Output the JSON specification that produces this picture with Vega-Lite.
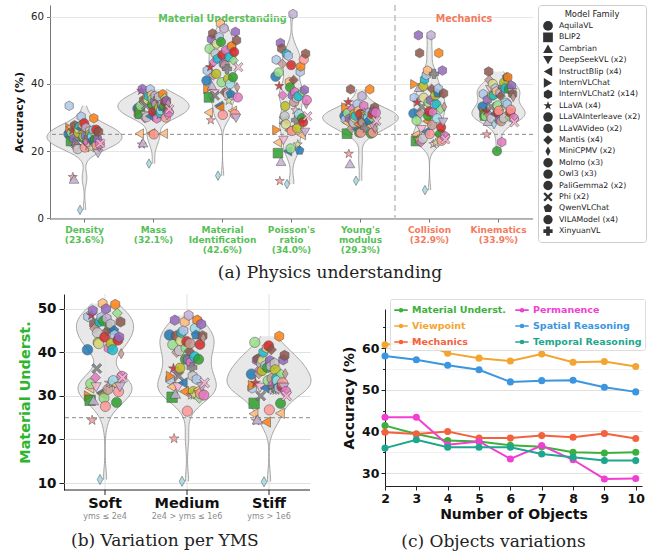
{
 "$schema": "https://vega.github.io/schema/vega-lite/v6.json",
 "padding": {"left": 13, "top": 4, "right": 2, "bottom": 2},
 "background": "white",
 "config": {
  "view": {"stroke": null},
  "font": "DejaVu Sans",
  "axis": {"labelFont": "DejaVu Sans", "titleFont": "DejaVu Sans"},
  "title": {"font": "DejaVu Serif", "fontSize": 17, "fontWeight": "normal", "color": "#222222", "orient": "bottom", "anchor": "middle", "frame": "bounds"}
 },
 "datasets": {
  "models": [
   {"m":"m00","f":"AquilaVL","a1":25.1,"a2":32.7,"a3":41,"a4":42.2,"a5":30.5,"a6":31.2,"a7":33.2,"Soft":40.6,"Medium":44,"Stiff":35},
   {"m":"m01","f":"InternVLChat2 (x14)","a1":33.5,"a2":31.0,"a3":44,"a4":47.2,"a5":29.5,"a6":35.9,"a7":37.0,"Soft":48.2,"Medium":33.8,"Stiff":31.8},
   {"m":"m02","f":"InternVLChat","a1":26.9,"a2":31.8,"a3":38.5,"a4":26.3,"a5":33,"a6":39.9,"a7":31.5,"Soft":30,"Medium":34.5,"Stiff":32.4},
   {"m":"m03","f":"InstructBlip (x4)","a1":27.2,"a2":25.2,"a3":31.5,"a4":22.6,"a5":28.5,"a6":24.8,"a7":31.0,"Soft":31.8,"Medium":32.1,"Stiff":25.9},
   {"m":"m04","f":"BLIP2","a1":23.0,"a2":31.2,"a3":36,"a4":19.4,"a5":25.2,"a6":23.0,"a7":30.6,"Soft":29,"Medium":29.7,"Stiff":28.3},
   {"m":"m05","f":"LLaVAInterleave (x2)","a1":25.5,"a2":33.5,"a3":50.5,"a4":43.4,"a5":31.3,"a6":29.1,"a7":30.4,"Soft":32.8,"Medium":41.8,"Stiff":42.3},
   {"m":"m06","f":"LLaVA (x4)","a1":26.1,"a2":38.0,"a3":45,"a4":39.4,"a5":34.6,"a6":34.5,"a7":31.9,"Soft":48.5,"Medium":36.3,"Stiff":33},
   {"m":"m07","f":"LLaVA (x4)","a1":12.3,"a2":22,"a3":29.2,"a4":11.1,"a5":19.2,"a6":23.5,"a7":25,"Soft":24.4,"Medium":20.2,"Stiff":24.3},
   {"m":"m08","f":"InternVLChat2 (x14)","a1":23.7,"a2":38.5,"a3":53.3,"a4":52.2,"a5":29.7,"a6":54.5,"a7":35.3,"Soft":49.6,"Medium":47.4,"Stiff":38.2},
   {"m":"m09","f":"Cambrian","a1":11.7,"a2":22.5,"a3":39.5,"a4":17,"a5":16.3,"a6":39.0,"a7":28.9,"Soft":29,"Medium":30.5,"Stiff":24.6},
   {"m":"m10","f":"InternVLChat2 (x14)","a1":27.7,"a2":35.2,"a3":55,"a4":50.5,"a5":38.4,"a6":49.2,"a7":43.7,"Soft":46.5,"Medium":43.8,"Stiff":38.5},
   {"m":"m11","f":"Mantis (x4)","a1":21.4,"a2":34.5,"a3":42.5,"a4":46,"a5":26.7,"a6":31.2,"a7":41.2,"Soft":45.5,"Medium":40,"Stiff":35.1},
   {"m":"m12","f":"Mantis (x4)","a1":21.9,"a2":29.8,"a3":46.5,"a4":36.6,"a5":32.6,"a6":22.6,"a7":30.6,"Soft":34.2,"Medium":35.5,"Stiff":36},
   {"m":"m13","f":"DeepSeekVL (x2)","a1":20.7,"a2":30.6,"a3":37,"a4":23.2,"a5":28,"a6":26.4,"a7":38.3,"Soft":32,"Medium":32,"Stiff":31.9},
   {"m":"m14","f":"Phi (x2)","a1":22.5,"a2":33.6,"a3":36.5,"a4":29.2,"a5":29,"a6":33.2,"a7":33.2,"Soft":36.3,"Medium":34.6,"Stiff":30},
   {"m":"m15","f":"PaliGemma2 (x2)","a1":20.6,"a2":30.1,"a3":49,"a4":30.4,"a5":28.5,"a6":23.7,"a7":29.8,"Soft":44.5,"Medium":40.4,"Stiff":37.5},
   {"m":"m16","f":"VILAModel (x4)","a1":25.4,"a2":36.0,"a3":43,"a4":33.4,"a5":31,"a6":39.3,"a7":36.6,"Soft":42.3,"Medium":36.4,"Stiff":35.8},
   {"m":"m17","f":"Owl3 (x3)","a1":26.6,"a2":35.3,"a3":52,"a4":28,"a5":30,"a6":35.9,"a7":40.0,"Soft":42,"Medium":42.7,"Stiff":38.2},
   {"m":"m18","f":"InternVLChat2 (x14)","a1":27.4,"a2":36.3,"a3":47.5,"a4":49,"a5":30.5,"a6":41.3,"a7":36.6,"Soft":47,"Medium":44.5,"Stiff":40},
   {"m":"m19","f":"MiniCPMV (x2)","a1":2.5,"a2":16.3,"a3":12.7,"a4":10.2,"a5":11.2,"a6":8.4,"a7":28.0,"Soft":10.8,"Medium":10.4,"Stiff":10.3},
   {"m":"m20","f":"InstructBlip (x4)","a1":26.8,"a2":30.4,"a3":33.5,"a4":20,"a5":26.5,"a6":25.8,"a7":31.0,"Soft":30.7,"Medium":33,"Stiff":31.8},
   {"m":"m21","f":"InternVLChat2 (x14)","a1":30.3,"a2":38.4,"a3":54,"a4":48.4,"a5":34,"a6":42.6,"a7":38.7,"Soft":48,"Medium":45,"Stiff":37},
   {"m":"m22","f":"InstructBlip (x4)","a1":25.6,"a2":25.3,"a3":33,"a4":26.2,"a5":28,"a6":28.9,"a7":31.5,"Soft":30.4,"Medium":31,"Stiff":24},
   {"m":"m23","f":"InternVLChat2 (x14)","a1":27.9,"a2":36.7,"a3":58,"a4":40.6,"a5":32,"a6":44.0,"a7":37.8,"Soft":51.2,"Medium":47,"Stiff":41},
   {"m":"m24","f":"VILAModel (x4)","a1":23.9,"a2":33.9,"a3":52.5,"a4":39,"a5":25.5,"a6":30.5,"a7":20,"Soft":47.2,"Medium":38.4,"Stiff":36.5},
   {"m":"m25","f":"Owl3 (x3)","a1":24.4,"a2":35.5,"a3":40.5,"a4":20.8,"a5":30.9,"a6":34.5,"a7":33.6,"Soft":29.5,"Medium":41,"Stiff":33.5},
   {"m":"m26","f":"PaliGemma2 (x2)","a1":28.3,"a2":31.7,"a3":48.6,"a4":45.6,"a5":31,"a6":31.8,"a7":31.4,"Soft":43.5,"Medium":42.5,"Stiff":41.5},
   {"m":"m27","f":"LLaVAVideo (x2)","a1":21.1,"a2":25,"a3":30.8,"a4":26,"a5":25.5,"a6":25.1,"a7":32.0,"Soft":27.6,"Medium":26.5,"Stiff":26.8},
   {"m":"m28","f":"InternVLChat2 (x14)","a1":24.5,"a2":34.8,"a3":46,"a4":36.6,"a5":29,"a6":35.2,"a7":29.3,"Soft":50,"Medium":38.3,"Stiff":38.1},
   {"m":"m29","f":"InternVLChat2 (x14)","a1":27.0,"a2":36.5,"a3":56.5,"a4":60.8,"a5":36.4,"a6":54.5,"a7":37.4,"Soft":47.8,"Medium":48.5,"Stiff":36.8},
   {"m":"m30","f":"Mantis (x4)","a1":22.6,"a2":32.0,"a3":37.5,"a4":41.2,"a5":29.5,"a6":38.6,"a7":36.4,"Soft":45,"Medium":40.3,"Stiff":40.6},
   {"m":"m31","f":"Molmo (x3)","a1":23.1,"a2":34.0,"a3":45.5,"a4":34.6,"a5":28.5,"a6":27.8,"a7":28.9,"Soft":31.5,"Medium":42,"Stiff":34},
   {"m":"m32","f":"InternVLChat2 (x14)","a1":22.8,"a2":29.7,"a3":50,"a4":37.6,"a5":33.5,"a6":31.6,"a7":22.7,"Soft":41,"Medium":37.7,"Stiff":32.4},
   {"m":"m33","f":"LLaVA (x4)","a1":21.6,"a2":32.8,"a3":38,"a4":32.2,"a5":31.5,"a6":22.1,"a7":38.3,"Soft":33,"Medium":30.2,"Stiff":31.3},
   {"m":"m34","f":"XinyuanVL","a1":24.1,"a2":35.7,"a3":44.5,"a4":29.2,"a5":27,"a6":43,"a7":39.1,"Soft":45.8,"Medium":36.5,"Stiff":32},
   {"m":"m35","f":"InternVLChat2 (x14)","a1":26.0,"a2":36.2,"a3":37,"a4":35.8,"a5":30.5,"a6":33.9,"a7":29.8,"Soft":46.5,"Medium":34.6,"Stiff":37.5},
   {"m":"m36","f":"LLaVAInterleave (x2)","a1":25.0,"a2":33.0,"a3":41.5,"a4":26.8,"a5":30.5,"a6":36.6,"a7":40.4,"Soft":42,"Medium":31,"Stiff":36},
   {"m":"m37","f":"LLaVA (x4)","a1":20.9,"a2":30.8,"a3":35,"a4":22,"a5":30.5,"a6":22.5,"a7":33.2,"Soft":32.8,"Medium":30.2,"Stiff":31.3},
   {"m":"m38","f":"VILAModel (x4)","a1":24.7,"a2":31.3,"a3":48,"a4":36.4,"a5":30,"a6":33.9,"a7":38.7,"Soft":40.6,"Medium":39,"Stiff":34},
   {"m":"m39","f":"Molmo (x3)","a1":24.2,"a2":32.2,"a3":40,"a4":31,"a5":30,"a6":29.8,"a7":34.4,"Soft":33.5,"Medium":45.5,"Stiff":33.5},
   {"m":"m40","f":"QwenVLChat","a1":23.2,"a2":33.2,"a3":37,"a4":20.2,"a5":29,"a6":37.2,"a7":42,"Soft":45,"Medium":44,"Stiff":32},
   {"m":"m41","f":"InternVLChat2 (x14)","a1":26.3,"a2":34.1,"a3":51,"a4":43.6,"a5":31.5,"a6":38.6,"a7":34,"Soft":44,"Medium":33.8,"Stiff":31.8},
   {"m":"m42","f":"InternVLChat2 (x14)","a1":29.8,"a2":36.9,"a3":51.3,"a4":45.2,"a5":38.4,"a6":49.2,"a7":42,"Soft":51,"Medium":47.4,"Stiff":43.7},
   {"m":"m43","f":"InstructBlip (x4)","a1":24.9,"a2":25.2,"a3":32,"a4":24.8,"a5":27.5,"a6":24.8,"a7":31.5,"Soft":32.5,"Medium":31.5,"Stiff":26},
   {"m":"m44","f":"Owl3 (x3)","a1":23.5,"a2":33.4,"a3":42,"a4":29.8,"a5":25.2,"a6":25.1,"a7":38.5,"Soft":28.5,"Medium":38.4,"Stiff":28.3},
   {"m":"m45","f":"Mantis (x4)","a1":22.0,"a2":35.8,"a3":47,"a4":37.6,"a5":30,"a6":32.5,"a7":30.1,"Soft":49,"Medium":29.5,"Stiff":35},
   {"m":"m46","f":"VILAModel (x4)","a1":26.4,"a2":34.7,"a3":49.5,"a4":28.6,"a5":31,"a6":27.1,"a7":31.5,"Soft":42.8,"Medium":41.8,"Stiff":32.1},
   {"m":"m47","f":"LLaVAVideo (x2)","a1":21.7,"a2":30.0,"a3":31,"a4":47.3,"a5":25.5,"a6":23.1,"a7":32.3,"Soft":31,"Medium":30.5,"Stiff":33},
   {"m":"m48","f":"InternVLChat2 (x14)","a1":23.6,"a2":35.0,"a3":55.5,"a4":38.2,"a5":32,"a6":44.0,"a7":39.5,"Soft":43.5,"Medium":46.5,"Stiff":38.3},
   {"m":"m49","f":"DeepSeekVL (x2)","a1":19.3,"a2":30.5,"a3":29.8,"a4":25.6,"a5":27,"a6":28.6,"a7":37.4,"Soft":32,"Medium":32,"Stiff":31.9},
   {"m":"m50","f":"InternVLChat2 (x14)","a1":25.8,"a2":32.3,"a3":53,"a4":49,"a5":33,"a6":37.2,"a7":37.0,"Soft":47,"Medium":43.8,"Stiff":39.3},
   {"m":"m51","f":"MiniCPMV (x2)","a1":21.2,"a2":34.3,"a3":39,"a4":34,"a5":26.7,"a6":33.2,"a7":36.1,"Soft":39.7,"Medium":43.3,"Stiff":35.1},
   {"m":"m52","f":"Molmo (x3)","a1":22.2,"a2":31.5,"a3":36,"a4":35.2,"a5":31.5,"a6":24.4,"a7":29.8,"Soft":34.5,"Medium":30.2,"Stiff":31},
   {"m":"m53","f":"Phi (x2)","a1":22.3,"a2":32.5,"a3":45,"a4":30.4,"a5":29,"a6":23.5,"a7":28.6,"Soft":34.2,"Medium":33,"Stiff":30}
  ],
  "lines": [
   {"n":2,"s":"Material Underst.","acc":41.4},{"n":3,"s":"Material Underst.","acc":39.4},{"n":4,"s":"Material Underst.","acc":37.8},{"n":5,"s":"Material Underst.","acc":37.6},{"n":6,"s":"Material Underst.","acc":36.7},{"n":7,"s":"Material Underst.","acc":36.3},{"n":8,"s":"Material Underst.","acc":35.0},{"n":9,"s":"Material Underst.","acc":34.8},{"n":10,"s":"Material Underst.","acc":35.0},
   {"n":2,"s":"Viewpoint","acc":60.8},{"n":3,"s":"Viewpoint","acc":61.6},{"n":4,"s":"Viewpoint","acc":58.8},{"n":5,"s":"Viewpoint","acc":57.6},{"n":6,"s":"Viewpoint","acc":56.9},{"n":7,"s":"Viewpoint","acc":58.6},{"n":8,"s":"Viewpoint","acc":56.6},{"n":9,"s":"Viewpoint","acc":56.8},{"n":10,"s":"Viewpoint","acc":55.6},
   {"n":2,"s":"Mechanics","acc":39.8},{"n":3,"s":"Mechanics","acc":39.4},{"n":4,"s":"Mechanics","acc":40.0},{"n":5,"s":"Mechanics","acc":38.4},{"n":6,"s":"Mechanics","acc":38.4},{"n":7,"s":"Mechanics","acc":39.0},{"n":8,"s":"Mechanics","acc":38.6},{"n":9,"s":"Mechanics","acc":39.5},{"n":10,"s":"Mechanics","acc":38.3},
   {"n":2,"s":"Permanence","acc":43.4},{"n":3,"s":"Permanence","acc":43.4},{"n":4,"s":"Permanence","acc":36.8},{"n":5,"s":"Permanence","acc":37.6},{"n":6,"s":"Permanence","acc":33.4},{"n":7,"s":"Permanence","acc":36.6},{"n":8,"s":"Permanence","acc":33.2},{"n":9,"s":"Permanence","acc":28.6},{"n":10,"s":"Permanence","acc":28.7},
   {"n":2,"s":"Spatial Reasoning","acc":58.1},{"n":3,"s":"Spatial Reasoning","acc":57.2},{"n":4,"s":"Spatial Reasoning","acc":55.9},{"n":5,"s":"Spatial Reasoning","acc":54.8},{"n":6,"s":"Spatial Reasoning","acc":51.9},{"n":7,"s":"Spatial Reasoning","acc":52.2},{"n":8,"s":"Spatial Reasoning","acc":52.3},{"n":9,"s":"Spatial Reasoning","acc":50.6},{"n":10,"s":"Spatial Reasoning","acc":49.5},
   {"n":2,"s":"Temporal Reasoning","acc":36.0},{"n":3,"s":"Temporal Reasoning","acc":38.0},{"n":4,"s":"Temporal Reasoning","acc":36.2},{"n":5,"s":"Temporal Reasoning","acc":36.2},{"n":6,"s":"Temporal Reasoning","acc":36.2},{"n":7,"s":"Temporal Reasoning","acc":34.6},{"n":8,"s":"Temporal Reasoning","acc":33.8},{"n":9,"s":"Temporal Reasoning","acc":33.0},{"n":10,"s":"Temporal Reasoning","acc":33.0}
  ]
 },
 "resolve": {"scale": {"color": "independent", "shape": "independent", "size": "independent"}},
 "spacing": 12,
 "vconcat": [
  {
   "data": {"name": "models"},
   "transform": [{"fold": ["a1","a2","a3","a4","a5","a6","a7"], "as": ["cat","v"]}],
   "title": {"text": "(a) Physics understanding", "offset": 10},
   "bounds": "flush",
   "facet": {"column": {"field": "cat", "type": "nominal", "title": null, "header": {
     "labelOrient": "bottom", "labelPadding": 7, "labelFontSize": 9, "labelFontWeight": "bold", "labelLineHeight": 10, "labelBaseline": "top",
     "labelColor": {"expr": "parent['cat'] >= 'a6' ? '#f47a60' : '#56c056'"},
     "labelExpr": "datum.value == 'a1' ? ['Density','(23.6%)'] : datum.value == 'a2' ? ['Mass','(32.1%)'] : datum.value == 'a3' ? ['Material','Identification','(42.6%)'] : datum.value == 'a4' ? [\"Poisson's\",'ratio','(34.0%)'] : datum.value == 'a5' ? [\"Young's\",'modulus','(29.3%)'] : datum.value == 'a6' ? ['Collision','(32.9%)'] : ['Kinematics','(33.9%)']"
   }}},
   "spacing": 0,
   "spec": {
    "width": 69, "height": 214,
    "layer": [
     {
      "transform": [{"filter": "datum.m == 'm00'"}],
      "mark": {"type": "rule", "color": "#777777", "strokeWidth": 1},
      "encoding": {"x": {"datum": 27.5, "type": "quantitative", "scale": {"domain": [-30, 85], "nice": false, "zero": false}, "axis": null}, "y": {"datum": -0.2}, "y2": {"datum": -1.25}}
     },
     {"layer": [
      {
       "transform": [{"density": "v", "groupby": ["cat"], "bandwidth": 2.2, "steps": 120}],
       "mark": {"type": "area", "orient": "horizontal", "fill": "#e2e2e2", "fillOpacity": 0.8},
       "encoding": {
        "y": {"field": "value", "type": "quantitative", "title": "Accuracy (%)", "scale": {"domain": [-0.2, 63.5], "nice": false, "zero": false},
              "axis": {"values": [0,10,20,30,40,50,60], "grid": true, "gridColor": "#e6e6e6", "domainColor": "#777777", "tickColor": "#777777", "tickSize": 3.5, "labelFontSize": 10.2, "labelColor": "#222222", "labelPadding": 3, "titleFontSize": 11, "titleFontWeight": "bold", "titleColor": "#111111", "titlePadding": 6}},
        "x": {"field": "density", "type": "quantitative", "stack": null, "scale": {"domain": [-0.098, 0.098], "nice": false, "zero": false}, "axis": null}
       }
      },
      {
       "transform": [{"density": "v", "groupby": ["cat"], "bandwidth": 2.2, "steps": 120}],
       "mark": {"type": "line", "color": "#909090", "strokeWidth": 0.8},
       "encoding": {
        "y": {"field": "value", "type": "quantitative", "title": "Accuracy (%)"},
        "x": {"field": "density", "type": "quantitative"},
        "order": {"field": "value", "type": "quantitative"}
       }
      }
     ]},
     {"layer": [
      {
       "transform": [{"density": "v", "groupby": ["cat"], "bandwidth": 2.2, "steps": 120}],
       "mark": {"type": "area", "orient": "horizontal", "fill": "#e2e2e2", "fillOpacity": 0.8},
       "encoding": {
        "y": {"field": "value", "type": "quantitative", "title": "Accuracy (%)"},
        "x": {"field": "density", "type": "quantitative", "stack": null, "scale": {"domain": [-0.098, 0.098], "nice": false, "zero": false, "reverse": true}, "axis": null}
       }
      },
      {
       "transform": [{"density": "v", "groupby": ["cat"], "bandwidth": 2.2, "steps": 120}],
       "mark": {"type": "line", "color": "#909090", "strokeWidth": 0.8},
       "encoding": {
        "y": {"field": "value", "type": "quantitative", "title": "Accuracy (%)"},
        "x": {"field": "density", "type": "quantitative"},
        "order": {"field": "value", "type": "quantitative"}
       }
      },
      {
       "transform": [{"filter": "datum.m == 'm00'"}],
       "mark": {"type": "rule", "strokeDash": [4,3], "color": "#8a8a8a", "strokeWidth": 1},
       "encoding": {"y": {"datum": 25}}
      },
      {
       "transform": [{"filter": "datum.m == 'm00'"}],
       "mark": {"type": "rule", "color": "#777777", "strokeWidth": 1},
       "encoding": {"y": {"datum": -0.2}}
      },
      {
       "transform": [{"filter": "datum.m == 'm00' && datum.cat == 'a6'"}],
       "mark": {"type": "rule", "strokeDash": [6,4], "color": "#c4c4c4", "strokeWidth": 1.6},
       "encoding": {"x": {"datum": 0.098}}
      },
      {
       "transform": [{"filter": "datum.m == 'm00' && datum.cat == 'a3'"}],
       "mark": {"type": "text", "text": "Material Understanding", "fontWeight": "bold", "fontSize": 9.6, "color": "#5cc15c"},
       "encoding": {"y": {"datum": 59.3}}
      },
      {
       "transform": [{"filter": "datum.m == 'm00' && datum.cat == 'a7'"}],
       "mark": {"type": "text", "text": "Mechanics", "fontWeight": "bold", "fontSize": 9.6, "color": "#f47a60"},
       "encoding": {"y": {"datum": 59.3}, "x": {"datum": 0.098}}
      }
     ]},
     {
      "transform": [{"window": [{"op": "row_number", "as": "i"}], "groupby": ["cat"], "sort": [{"field": "m"}]}],
      "mark": {"type": "point", "filled": true, "opacity": 0.85, "stroke": "#4a4a4a", "strokeWidth": 0.6},
      "encoding": {
       "x": {"field": "i", "type": "quantitative", "scale": {"domain": [-30, 85], "nice": false, "zero": false}, "axis": null},
       "y": {"field": "v", "type": "quantitative", "title": "Accuracy (%)", "scale": {"domain": [-0.2, 63.5], "nice": false, "zero": false}},
       "color": {"field": "m", "type": "nominal", "legend": null, "scale": {"range": ["#1f77b4","#aec7e8","#ff7f0e","#ffbb78","#2ca02c","#98df8a","#d62728","#ff9896","#9467bd","#c5b0d5","#8c564b","#c49c94","#e377c2","#f7b6d2","#7f7f7f","#c7c7c7","#bcbd22","#dbdb8d","#17becf","#9edae5"]}},
       "shape": {"field": "f", "type": "nominal",
        "scale": {"domain": ["AquilaVL","BLIP2","Cambrian","DeepSeekVL (x2)","InstructBlip (x4)","InternVLChat","InternVLChat2 (x14)","LLaVA (x4)","LLaVAInterleave (x2)","LLaVAVideo (x2)","Mantis (x4)","MiniCPMV (x2)","Molmo (x3)","Owl3 (x3)","PaliGemma2 (x2)","Phi (x2)","QwenVLChat","VILAModel (x4)","XinyuanVL"],
                  "range": ["circle","square","triangle-up","triangle-down","triangle-left","triangle-right","M0,-1L0.866,-0.5L0.866,0.5L0,1L-0.866,0.5L-0.866,-0.5Z","M0,-1L0.224,-0.309L0.951,-0.309L0.363,0.118L0.588,0.809L0,0.382L-0.588,0.809L-0.363,0.118L-0.951,-0.309L-0.224,-0.309Z","circle","circle","diamond","M0,-1L0.55,0L0,1L-0.55,0Z","circle","circle","circle","M0,-0.35L0.65,-1L1,-0.65L0.35,0L1,0.65L0.65,1L0,0.35L-0.65,1L-1,0.65L-0.35,0L-1,-0.65L-0.65,-1Z","M0,-1L0.951,-0.309L0.588,0.809L-0.588,0.809L-0.951,-0.309Z","circle","cross"]},
        "legend": {"title": "Model Family", "orient": "right", "offset": 4, "padding": 5, "strokeColor": "#cccccc", "fillColor": "white", "cornerRadius": 3, "titleFontWeight": "normal", "titleFontSize": 8.4, "titleColor": "#222222", "titleAnchor": "middle", "titlePadding": 2, "labelFontSize": 7.8, "labelColor": "#222222", "labelOffset": 6, "symbolFillColor": "#333333", "symbolStrokeColor": "#333333", "symbolStrokeWidth": 0, "symbolOpacity": 1, "clipHeight": 11, "rowPadding": 0.4}},
       "size": {"field": "f", "type": "nominal",
        "scale": {"domain": ["AquilaVL","BLIP2","Cambrian","DeepSeekVL (x2)","InstructBlip (x4)","InternVLChat","InternVLChat2 (x14)","LLaVA (x4)","LLaVAInterleave (x2)","LLaVAVideo (x2)","Mantis (x4)","MiniCPMV (x2)","Molmo (x3)","Owl3 (x3)","PaliGemma2 (x2)","Phi (x2)","QwenVLChat","VILAModel (x4)","XinyuanVL"],
                  "range": [95,85,95,95,95,95,180,75,95,95,120,130,28,95,95,85,120,95,90]},
        "legend": {"title": "Model Family", "orient": "right", "offset": 4, "padding": 5, "strokeColor": "#cccccc", "fillColor": "white", "cornerRadius": 3, "titleFontWeight": "normal", "titleFontSize": 8.4, "titleColor": "#222222", "titleAnchor": "middle", "titlePadding": 2, "labelFontSize": 7.8, "labelColor": "#222222", "labelOffset": 6, "symbolFillColor": "#333333", "symbolStrokeColor": "#333333", "symbolStrokeWidth": 0, "symbolOpacity": 1, "clipHeight": 11, "rowPadding": 0.4}}
      }
     }
    ],
    "resolve": {"scale": {"x": "independent"}, "axis": {"x": "independent"}}
   }
  },
  {
   "resolve": {"scale": {"color": "independent", "shape": "independent", "size": "independent"}},
   "spacing": 29,
   "hconcat": [
    {
     "bounds": "flush",
     "spacing": 0,
     "resolve": {"scale": {"color": "independent", "shape": "independent", "size": "independent"}},
     "hconcat": [
      {"width": 14, "height": 10, "data": {"values": []}, "mark": {"type": "point", "opacity": 0}, "encoding": {}},
      {
       "data": {"name": "models"},
       "transform": [{"fold": ["Soft","Medium","Stiff"], "as": ["cat","v"]}],
       "title": {"text": "(b) Variation per YMS", "offset": 12},
       "bounds": "flush",
       "facet": {"column": {"field": "cat", "type": "nominal", "title": null, "sort": ["Soft","Medium","Stiff"], "header": {
         "labelOrient": "bottom", "labelPadding": 23, "labelFontSize": 8, "labelColor": "#8a8a8a", "labelBaseline": "top",
         "labelExpr": "datum.value == 'Soft' ? 'yms ≤ 2e4' : datum.value == 'Medium' ? '2e4 > yms ≤ 1e6' : 'yms > 1e6'"
       }}},
       "spacing": 0,
       "spec": {
        "width": 82, "height": 196,
        "layer": [
         {"layer": [
          {
           "transform": [{"filter": "datum.m == 'm00'"}],
           "mark": {"type": "rule", "color": "#e0e0e0", "strokeWidth": 1},
           "encoding": {"x": {"datum": 27.5, "type": "quantitative", "scale": {"domain": [-34.5, 89.5], "nice": false, "zero": false}, "axis": null}}
          },
          {
           "transform": [{"filter": "datum.m == 'm00'"}],
           "mark": {"type": "rule", "color": "#222222", "strokeWidth": 1},
           "encoding": {"x": {"datum": 27.5, "type": "quantitative"}, "y": {"datum": 8.4}, "y2": {"datum": 7.25}}
          }
         ]},
         {"layer": [
          {
           "transform": [{"density": "v", "groupby": ["cat"], "bandwidth": 2.6, "steps": 120}],
           "mark": {"type": "area", "orient": "horizontal", "fill": "#e2e2e2", "fillOpacity": 0.8},
           "encoding": {
            "y": {"field": "value", "type": "quantitative", "title": "Material Underst.", "scale": {"domain": [8.4, 53.4], "nice": false, "zero": false},
                  "axis": {"values": [10,15,20,25,30,35,40,45,50], "labelExpr": "datum.value % 10 == 0 ? datum.label : ''", "grid": true,
                           "gridColor": {"condition": {"test": "datum.value % 10 == 0", "value": "#e0e0e0"}, "value": "#f0f0f0"},
                           "tickSize": {"condition": {"test": "datum.value % 10 == 0", "value": 5}, "value": 3},
                           "domainColor": "#222222", "tickColor": "#222222", "labelFontSize": 13.5, "labelFontWeight": "bold", "labelColor": "#111111", "labelPadding": 3,
                           "titleFontSize": 14.4, "titleFontWeight": "bold", "titleColor": "#2db52d", "titlePadding": 5}},
            "x": {"field": "density", "type": "quantitative", "stack": null, "scale": {"domain": [-0.072, 0.072], "nice": false, "zero": false}, "axis": null}
           }
          },
          {
           "transform": [{"density": "v", "groupby": ["cat"], "bandwidth": 2.6, "steps": 120}],
           "mark": {"type": "line", "color": "#909090", "strokeWidth": 0.8},
           "encoding": {
            "y": {"field": "value", "type": "quantitative", "title": "Material Underst."},
            "x": {"field": "density", "type": "quantitative"},
            "order": {"field": "value", "type": "quantitative"}
           }
          }
         ]},
         {"layer": [
          {
           "transform": [{"density": "v", "groupby": ["cat"], "bandwidth": 2.6, "steps": 120}],
           "mark": {"type": "area", "orient": "horizontal", "fill": "#e2e2e2", "fillOpacity": 0.8},
           "encoding": {
            "y": {"field": "value", "type": "quantitative", "title": "Material Underst."},
            "x": {"field": "density", "type": "quantitative", "stack": null, "scale": {"domain": [-0.072, 0.072], "nice": false, "zero": false, "reverse": true}, "axis": null}
           }
          },
          {
           "transform": [{"density": "v", "groupby": ["cat"], "bandwidth": 2.6, "steps": 120}],
           "mark": {"type": "line", "color": "#909090", "strokeWidth": 0.8},
           "encoding": {
            "y": {"field": "value", "type": "quantitative", "title": "Material Underst."},
            "x": {"field": "density", "type": "quantitative"},
            "order": {"field": "value", "type": "quantitative"}
           }
          },
          {
           "transform": [{"filter": "datum.m == 'm00'"}],
           "mark": {"type": "rule", "strokeDash": [4,3], "color": "#8a8a8a", "strokeWidth": 1},
           "encoding": {"y": {"datum": 25}}
          },
          {
           "transform": [{"filter": "datum.m == 'm00'"}],
           "mark": {"type": "rule", "color": "#222222", "strokeWidth": 1},
           "encoding": {"y": {"datum": 8.4}}
          },
          {
           "transform": [{"filter": "datum.m == 'm00'"}],
           "mark": {"type": "text", "fontWeight": "bold", "fontSize": 14.5, "color": "#111111", "baseline": "middle"},
           "encoding": {"y": {"datum": 5.2}, "text": {"field": "cat"}}
          }
         ]},
         {
          "transform": [{"window": [{"op": "row_number", "as": "i"}], "groupby": ["cat"], "sort": [{"field": "m"}]}],
          "mark": {"type": "point", "filled": true, "opacity": 0.85, "stroke": "#4a4a4a", "strokeWidth": 0.6},
          "encoding": {
           "x": {"field": "i", "type": "quantitative", "scale": {"domain": [-34.5, 89.5], "nice": false, "zero": false}, "axis": null},
           "y": {"field": "v", "type": "quantitative", "title": "Material Underst.", "scale": {"domain": [8.4, 53.4], "nice": false, "zero": false}},
           "color": {"field": "m", "type": "nominal", "legend": null, "scale": {"range": ["#1f77b4","#aec7e8","#ff7f0e","#ffbb78","#2ca02c","#98df8a","#d62728","#ff9896","#9467bd","#c5b0d5","#8c564b","#c49c94","#e377c2","#f7b6d2","#7f7f7f","#c7c7c7","#bcbd22","#dbdb8d","#17becf","#9edae5"]}},
           "shape": {"field": "f", "type": "nominal", "legend": null,
            "scale": {"domain": ["AquilaVL","BLIP2","Cambrian","DeepSeekVL (x2)","InstructBlip (x4)","InternVLChat","InternVLChat2 (x14)","LLaVA (x4)","LLaVAInterleave (x2)","LLaVAVideo (x2)","Mantis (x4)","MiniCPMV (x2)","Molmo (x3)","Owl3 (x3)","PaliGemma2 (x2)","Phi (x2)","QwenVLChat","VILAModel (x4)","XinyuanVL"],
                      "range": ["circle","square","triangle-up","triangle-down","triangle-left","triangle-right","M0,-1L0.866,-0.5L0.866,0.5L0,1L-0.866,0.5L-0.866,-0.5Z","M0,-1L0.224,-0.309L0.951,-0.309L0.363,0.118L0.588,0.809L0,0.382L-0.588,0.809L-0.363,0.118L-0.951,-0.309L-0.224,-0.309Z","circle","circle","diamond","M0,-1L0.55,0L0,1L-0.55,0Z","circle","circle","circle","M0,-0.35L0.65,-1L1,-0.65L0.35,0L1,0.65L0.65,1L0,0.35L-0.65,1L-1,0.65L-0.35,0L-1,-0.65L-0.65,-1Z","M0,-1L0.951,-0.309L0.588,0.809L-0.588,0.809L-0.951,-0.309Z","circle","cross"]}},
           "size": {"field": "f", "type": "nominal", "legend": null,
            "scale": {"domain": ["AquilaVL","BLIP2","Cambrian","DeepSeekVL (x2)","InstructBlip (x4)","InternVLChat","InternVLChat2 (x14)","LLaVA (x4)","LLaVAInterleave (x2)","LLaVAVideo (x2)","Mantis (x4)","MiniCPMV (x2)","Molmo (x3)","Owl3 (x3)","PaliGemma2 (x2)","Phi (x2)","QwenVLChat","VILAModel (x4)","XinyuanVL"],
                      "range": [110,100,110,110,110,110,200,85,110,110,140,140,32,110,110,100,140,110,105]}}
          }
         }
        ],
        "resolve": {"scale": {"x": "independent"}, "axis": {"x": "independent"}}
       }
      }
     ]
    },
    {
     "bounds": "flush",
     "spacing": 0,
     "vconcat": [
      {"width": 10, "height": 15, "data": {"values": []}, "mark": {"type": "point", "opacity": 0}, "encoding": {}},
      {
       "data": {"name": "lines"},
       "width": 257, "height": 177,
       "title": {"text": "(c) Objects variations", "offset": 12},
       "mark": {"type": "line", "strokeWidth": 2, "point": {"filled": true, "size": 50}},
       "encoding": {
        "x": {"field": "n", "type": "quantitative", "scale": {"domain": [2, 10.2], "nice": false, "zero": false},
              "axis": {"values": [2,3,4,5,6,7,8,9,10], "title": "Number of Objects", "grid": false, "tickSize": 4, "domainColor": "#222222", "tickColor": "#222222", "labelFontSize": 12.5, "labelFontWeight": "bold", "labelColor": "#111111", "labelFlush": false, "titleFontSize": 14, "titleFontWeight": "bold", "titleColor": "#111111", "titlePadding": 3}},
        "y": {"field": "acc", "type": "quantitative", "scale": {"domain": [26.9, 69.4], "nice": false, "zero": false},
              "axis": {"values": [30,35,40,45,50,55,60,65], "labelExpr": "datum.value % 10 == 0 ? datum.label : ''", "grid": true,
                       "gridColor": {"condition": {"test": "datum.value % 10 == 0", "value": "#e0e0e0"}, "value": "#f2f2f2"},
                       "tickSize": {"condition": {"test": "datum.value % 10 == 0", "value": 4}, "value": 2.5},
                       "domainColor": "#222222", "tickColor": "#222222", "labelFontSize": 12.5, "labelFontWeight": "bold", "labelColor": "#111111", "labelPadding": 2,
                       "title": "Accuracy (%)", "titleFontSize": 14, "titleFontWeight": "bold", "titleColor": "#111111", "titlePadding": 5}},
        "color": {"field": "s", "type": "nominal",
         "scale": {"domain": ["Material Underst.","Viewpoint","Mechanics","Permanence","Spatial Reasoning","Temporal Reasoning"], "range": ["#3cb03c","#f3a531","#f4613f","#f13fd3","#3b96df","#1ea78e"]},
         "legend": {"title": null, "orient": "top-left", "offset": 5, "columns": 2, "columnPadding": 6, "rowPadding": 3, "padding": 3, "fillColor": "rgba(255,255,255,0.85)", "strokeColor": "#dddddd", "cornerRadius": 2,
                    "labelFontSize": 9.5, "labelFontWeight": "bold", "labelOffset": 3,
                    "labelColor": {"expr": "datum.label == 'Material Underst.' ? '#3cb03c' : datum.label == 'Viewpoint' ? '#f3a531' : datum.label == 'Mechanics' ? '#f4613f' : datum.label == 'Permanence' ? '#f13fd3' : datum.label == 'Spatial Reasoning' ? '#3b96df' : '#1ea78e'"},
                    "symbolType": "M-1,0L1,0M0.22,0A0.22,0.22,0,1,1,-0.22,0A0.22,0.22,0,1,1,0.22,0", "symbolSize": 180, "symbolStrokeWidth": 1.6}}
       }
      }
     ]
    }
   ]
  }
 ]
}
